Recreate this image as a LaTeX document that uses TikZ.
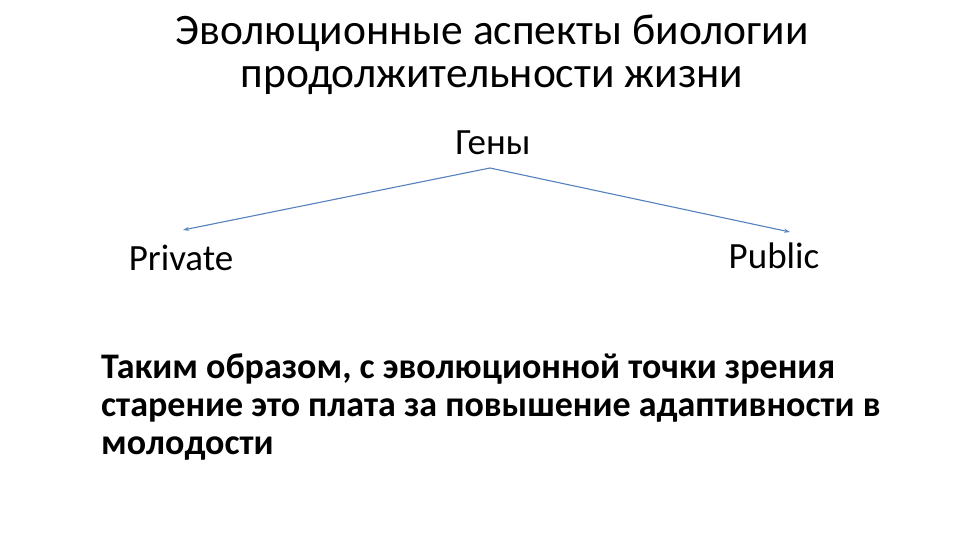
\documentclass[tikz,border=0pt]{standalone}
\usepackage{fontspec}
\setmainfont{Carlito}
\usetikzlibrary{arrows.meta}
\definecolor{arrowblue}{RGB}{84,130,190}
\tikzset{
  title/.style={font=\fontsize{43.5}{43.5}\selectfont, align=center, text=black, inner sep=0pt},
  label/.style={font=\fontsize{37}{44}\selectfont, text=black, inner sep=0pt},
  body/.style={font=\fontsize{36}{38}\selectfont\bfseries, align=left, text=black, inner sep=0pt},
  conn/.style={draw=arrowblue, line width=1.1pt, -{Stealth[length=6pt,width=4pt]}}
}
\begin{document}
\begin{tikzpicture}[x=1pt,y=-1pt]
\useasboundingbox[fill=white] (0,0) rectangle (960,540);
\node[title] (title) at (492,55) {Эволюционные аспекты биологии\\продолжительности жизни};
\node[label] (genes) at (493,143) {Гены};
\node[label] (private) at (181,258) {Private};
\node[label] (public) at (774,256) {Public};
\coordinate (top) at (490,168);
\coordinate (pl) at (183,230);
\coordinate (pr) at (790,232);
\draw[conn] (top) -- (pl);
\draw[conn] (top) -- (pr);
\node[body, anchor=north west] (text) at (101,353) {Таким образом, с эволюционной точки зрения\\старение это плата за повышение адаптивности в\\молодости};
\end{tikzpicture}
\end{document}
